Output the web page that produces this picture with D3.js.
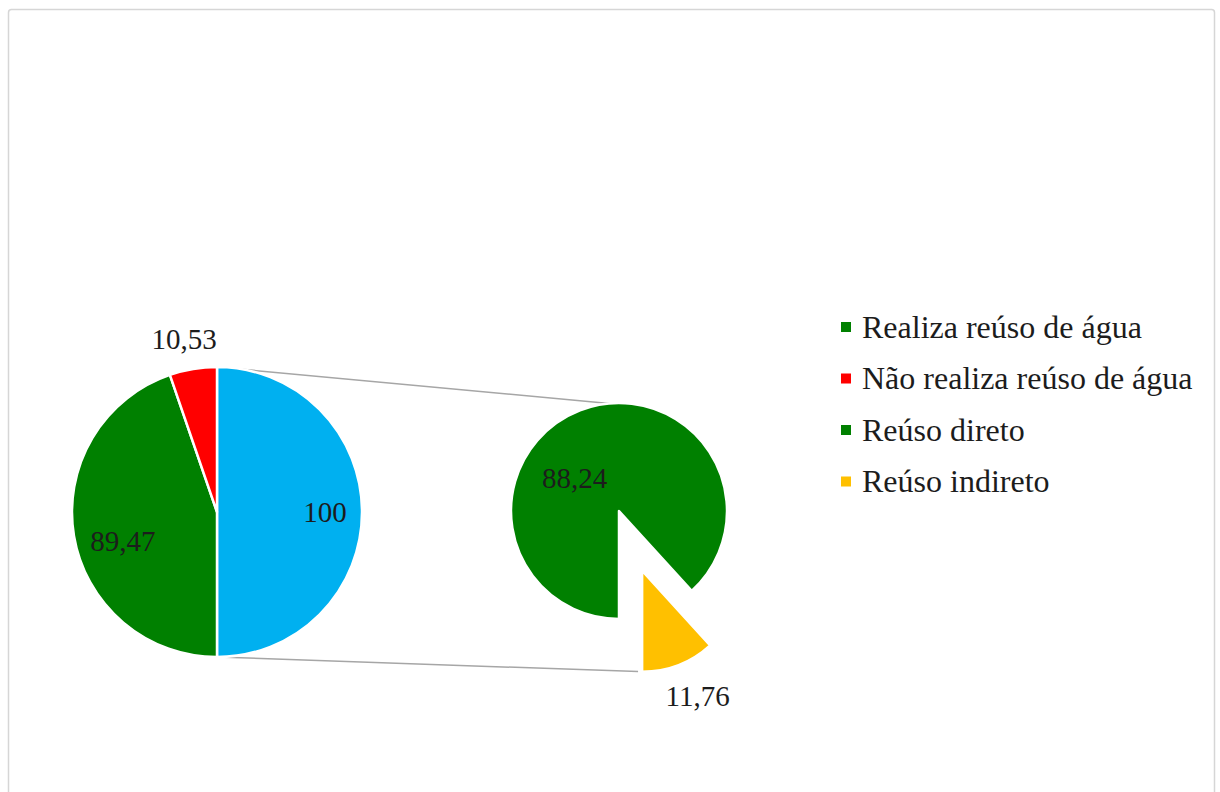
<!DOCTYPE html>
<html>
<head>
<meta charset="utf-8">
<script src="https://cdn.jsdelivr.net/npm/d3@7"></script>
<style>
  html, body { margin: 0; padding: 0; background: #ffffff; }
  svg { display: block; }
  text { font-family: "Liberation Serif", "Times New Roman", serif; fill: #1c1c1c; }
</style>
</head>
<body>
<svg id="chart" width="1220" height="792"></svg>
<script>
// Primary pie: the two answers, plus the combined slice that is broken out
const mainCategories = ["Realiza reúso de água", "Não realiza reúso de água"];
const mainValues = [89.47, 10.53];
const mainColors = ["#008000", "#ff0000"];

// Secondary pie: breakdown of the combined slice
const splitCategories = ["Reúso direto", "Reúso indireto"];
const splitValues = [88.24, 11.76];
const splitColors = ["#008000", "#ffc000"];

const combinedColor = "#00b0f0";
const combinedValue = d3.sum(splitValues);

// Legend entries in drawing order
const legendCategories = mainCategories.concat(splitCategories);
const legendColors = mainColors.concat(splitColors);

const fmt = v => String(v).replace(".", ",");

const svg = d3.select("#chart");

// Chart area frame
svg.append("rect")
  .attr("x", 8.5).attr("y", 9.5)
  .attr("width", 1206).attr("height", 800)
  .attr("rx", 3)
  .attr("fill", "#ffffff")
  .attr("stroke", "#d6d6d6")
  .attr("stroke-width", 1.5);

// ---- primary pie ----
const c1 = { x: 217, y: 512, r: 145 };
const primaryData = [
  { name: "combined", value: combinedValue, color: combinedColor },
  ...mainCategories.map((n, i) => ({ name: n, value: mainValues[i], color: mainColors[i] }))
];
const pie1 = d3.pie().sort(null).value(d => d.value).startAngle(0).endAngle(2 * Math.PI);
const arcs1 = pie1(primaryData);
const arc1 = d3.arc().innerRadius(0).outerRadius(c1.r);

// ---- secondary pie ----
const c2 = { x: 619, y: 511, r: 108 };
const splitData = splitCategories.map((n, i) => ({ name: n, value: splitValues[i], color: splitColors[i] }));
const pie2 = d3.pie().sort(null).value(d => d.value).startAngle(Math.PI).endAngle(3 * Math.PI);
const arcs2 = pie2(splitData);
const explodeDist = [0, 64];
const sliceRadius = [c2.r, 101];
const offsetOf = (a, i) => {
  const mid = (a.startAngle + a.endAngle) / 2;
  return [Math.sin(mid) * explodeDist[i], -Math.cos(mid) * explodeDist[i]];
};

// Connector lines between the combined slice and the secondary pie
const pt = (cx, cy, r, ang) => [cx + Math.sin(ang) * r, cy - Math.cos(ang) * r];
const blue = arcs1[0];
const lastSplit = arcs2[arcs2.length - 1];
const offLast = offsetOf(lastSplit, arcs2.length - 1);
const topStart = pt(c1.x, c1.y, c1.r, blue.startAngle);
const botStart = pt(c1.x, c1.y, c1.r, blue.endAngle);
const topEnd = pt(c2.x, c2.y, c2.r, -0.09);
const botEnd = pt(c2.x + offLast[0], c2.y + offLast[1], sliceRadius[arcs2.length - 1], lastSplit.endAngle + 0.04);
svg.append("g").selectAll("line")
  .data([[topStart, topEnd], [botStart, botEnd]])
  .join("line")
  .attr("x1", d => d[0][0]).attr("y1", d => d[0][1])
  .attr("x2", d => d[1][0]).attr("y2", d => d[1][1])
  .attr("stroke", "#a6a6a6")
  .attr("stroke-width", 1.5);

const g1 = svg.append("g").attr("transform", `translate(${c1.x},${c1.y})`);
g1.selectAll("path")
  .data(arcs1)
  .join("path")
  .attr("d", arc1)
  .attr("fill", d => d.data.color)
  .attr("stroke", "#ffffff")
  .attr("stroke-width", 2.5)
  .attr("stroke-linejoin", "round");

const g2 = svg.append("g").attr("transform", `translate(${c2.x},${c2.y})`);
g2.selectAll("path")
  .data(arcs2)
  .join("path")
  .attr("transform", (d, i) => `translate(${offsetOf(d, i)})`)
  .attr("d", (d, i) => d3.arc().innerRadius(0).outerRadius(sliceRadius[i])(d))
  .attr("fill", d => d.data.color)
  .attr("stroke", "#ffffff")
  .attr("stroke-width", 2.5)
  .attr("stroke-linejoin", "round");

// ---- data labels ----
// radius factor relative to the slice radius, plus a small nudge for placement
const labelFont = 29;
const labels1 = [
  { k: 0.745, dx: 0, dy: 0 },     // combined
  { k: 0.68, dx: 3, dy: 13 },     // realiza
  { k: 1.21, dx: -4, dy: 0 }      // não realiza
];
g1.selectAll("text")
  .data(arcs1)
  .join("text")
  .attr("x", (d, i) => Math.sin((d.startAngle + d.endAngle) / 2) * c1.r * labels1[i].k + labels1[i].dx)
  .attr("y", (d, i) => -Math.cos((d.startAngle + d.endAngle) / 2) * c1.r * labels1[i].k + labels1[i].dy)
  .attr("dy", "0.35em")
  .attr("text-anchor", "middle")
  .attr("font-size", labelFont)
  .text(d => fmt(d.data.value));

const labels2 = [
  { k: 0.5, dx: -25, dy: 17 },
  { k: 1.33, dx: 7, dy: 0 }
];
g2.selectAll("text")
  .data(arcs2)
  .join("text")
  .attr("x", (d, i) => offsetOf(d, i)[0] + Math.sin((d.startAngle + d.endAngle) / 2) * sliceRadius[i] * labels2[i].k + labels2[i].dx)
  .attr("y", (d, i) => offsetOf(d, i)[1] - Math.cos((d.startAngle + d.endAngle) / 2) * sliceRadius[i] * labels2[i].k + labels2[i].dy)
  .attr("dy", "0.35em")
  .attr("text-anchor", "middle")
  .attr("font-size", labelFont)
  .text(d => fmt(d.data.value));

// ---- legend ----
const legend = svg.append("g").attr("transform", "translate(846,327)");
const rows = legend.selectAll("g")
  .data(legendCategories)
  .join("g")
  .attr("transform", (d, i) => `translate(0,${i * 51.5})`);
rows.append("rect")
  .attr("x", -5).attr("y", -5)
  .attr("width", 10).attr("height", 10)
  .attr("fill", (d, i) => legendColors[i]);
rows.append("text")
  .attr("x", 16)
  .attr("y", 0)
  .attr("dy", "0.33em")
  .attr("font-size", 32)
  .text(d => d);
</script>
</body>
</html>
